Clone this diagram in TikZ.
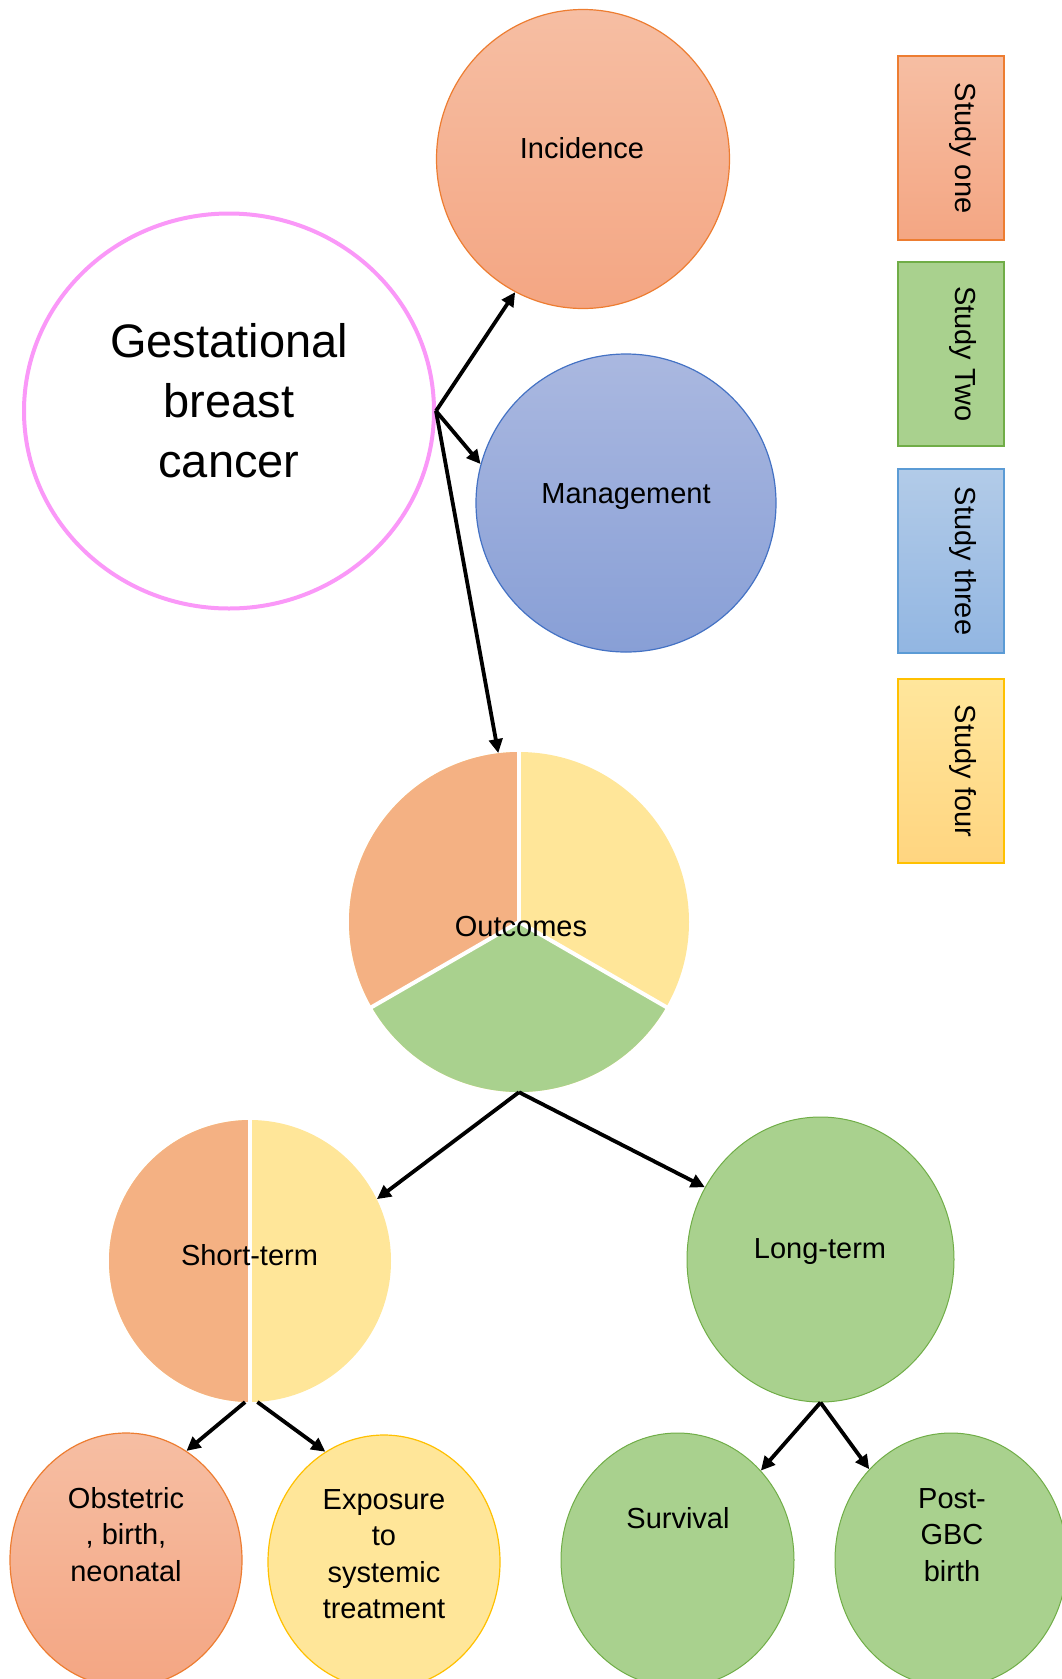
\documentclass[tikz,border=0pt]{standalone}
\usepackage{fontspec}
\setmainfont{Liberation Sans}
\usetikzlibrary{shapes.geometric,arrows.meta}

\definecolor{orgA}{HTML}{F6BEA3}
\definecolor{orgB}{HTML}{F4A683}
\definecolor{orgLine}{HTML}{ED7D31}
\definecolor{bluA}{HTML}{AAB8E0}
\definecolor{bluB}{HTML}{889FD6}
\definecolor{bluLine}{HTML}{4472C4}
\definecolor{skyA}{HTML}{B2CBE8}
\definecolor{skyB}{HTML}{92B6E2}
\definecolor{skyLine}{HTML}{5B9BD5}
\definecolor{ylwA}{HTML}{FFE69C}
\definecolor{ylwB}{HTML}{FFD580}
\definecolor{ylwLine}{HTML}{FFC000}
\definecolor{grn}{HTML}{A9D18E}
\definecolor{grnLine}{HTML}{70AD47}
\definecolor{pieOrg}{HTML}{F4B183}
\definecolor{pieYlw}{HTML}{FFE699}
\definecolor{gbcLine}{HTML}{FA98F8}

\tikzset{
  blob/.style={ellipse, inner sep=0pt},
  % multi-line labels are placed by the baseline of their last line
  lbl/.style={font=\fontsize{29}{36.5}\selectfont, anchor=base, align=center, inner sep=0pt},
  keybox/.style={rectangle, minimum width=106, minimum height=184, inner sep=0pt, line width=1.2},
  keytext/.style={font=\fontsize{29}{36.5}\selectfont, rotate=-90, anchor=base, inner sep=0pt},
  arr/.style={line width=3.8, -{Triangle[length=14, width=13.5]}},
  sep/.style={white, line width=4},
}

\begin{document}
\begin{tikzpicture}[x=1pt, y=-1pt]
\useasboundingbox (0,0) rectangle (1062,1679);
\clip (0,0) rectangle (1062,1679);

% main topic
\node[blob, minimum width=410, minimum height=395, draw=gbcLine, line width=4, fill=white] (gbc) at (229,411) {};
\node[font=\fontsize{47}{60}\selectfont, anchor=base, align=center, inner sep=0pt] (gbcText) at (229,477) {Gestational\\breast\\cancer};

% study topics
\node[blob, minimum width=293, minimum height=299, draw=orgLine, line width=1.2, top color=orgA, bottom color=orgB] (inc) at (583,159) {};
\node[lbl] (incText) at (582,158) {Incidence};

\node[blob, minimum width=300, minimum height=298, draw=bluLine, line width=1.2, top color=bluA, bottom color=bluB] (mgmt) at (626,503) {};
\node[lbl] (mgmtText) at (626,503) {Management};

% outcomes pie
\coordinate (oc) at (519,922);
\fill[pieYlw] (oc) circle[radius=170];
\fill[pieOrg] (oc) -- +(-90:170) arc[start angle=-90, end angle=-210, radius=170] -- cycle;
\fill[grn] (oc) -- +(-210:170) arc[start angle=-210, end angle=-330, radius=170] -- cycle;
\draw[sep] (oc) -- +(-90:171);
\draw[sep] (oc) -- +(-210:171);
\draw[sep] (oc) -- +(-330:171);
\node[circle, minimum size=340, inner sep=0pt] (out) at (oc) {};
\node[lbl] (outText) at (521,936) {Outcomes};

% short-term split circle
\coordinate (sc) at (250,1261);
\fill[pieYlw] (sc) circle[radius=141];
\fill[pieOrg] (sc) -- +(-90:141) arc[start angle=-90, end angle=-270, radius=141] -- cycle;
\draw[sep, line width=3.5] (sc) ++(0,-142) -- ++(0,284);
\node[circle, minimum size=282, inner sep=0pt] (st) at (sc) {};
\node[lbl] (stText) at (249.5,1265) {Short-term};

% long-term
\node[blob, minimum width=267, minimum height=285, draw=grnLine, line width=1, fill=grn] (lt) at (820.5,1259.5) {};
\node[lbl] (ltText) at (820,1258) {Long-term};

% bottom row
\node[blob, minimum width=232, minimum height=254, draw=orgLine, line width=1.2, top color=orgA, bottom color=orgB] (obs) at (126,1560) {};
\node[lbl] (obsText) at (126,1581) {Obstetric\\, birth,\\neonatal};

\node[blob, minimum width=232, minimum height=254, draw=ylwLine, line width=1.2, fill=pieYlw] (exp) at (384,1562) {};
\node[lbl] (expText) at (384,1618.5) {Exposure\\to\\systemic\\treatment};

\node[blob, minimum width=233, minimum height=254, draw=grnLine, line width=1, fill=grn] (surv) at (677.5,1560) {};
\node[lbl] (survText) at (678,1528) {Survival};

\node[blob, minimum width=232, minimum height=254, draw=grnLine, line width=1, fill=grn] (post) at (951,1560) {};
\node[lbl] (postText) at (952,1581) {Post-\\GBC\\birth};

% key
\node[keybox, draw=orgLine, top color=orgA, bottom color=orgB] (k1) at (951,148) {};
\node[keytext] (k1Text) at (955,148) {Study one};
\node[keybox, draw=grnLine, fill=grn] (k2) at (951,354) {};
\node[keytext] (k2Text) at (955,354) {Study Two};
\node[keybox, draw=skyLine, top color=skyA, bottom color=skyB] (k3) at (951,561) {};
\node[keytext] (k3Text) at (955,561) {Study three};
\node[keybox, draw=ylwLine, top color=ylwA, bottom color=ylwB] (k4) at (951,771) {};
\node[keytext] (k4Text) at (955,771) {Study four};

% connectors
\draw[arr] (gbc.east) -- (inc.243);
\draw[arr] (gbc.east) -- (mgmt.165);
\draw[arr] (gbc.east) -- (out.97);
\draw[arr] (out.south) -- (st.26);
\draw[arr] (out.south) -- (lt.148);
\draw[arr] (st.-92.5) -- (obs.61);
\draw[arr] (st.-87.5) -- (exp.118);
\draw[arr] (lt.south) -- (surv.47);
\draw[arr] (lt.south) -- (post.132);
\end{tikzpicture}
\end{document}
